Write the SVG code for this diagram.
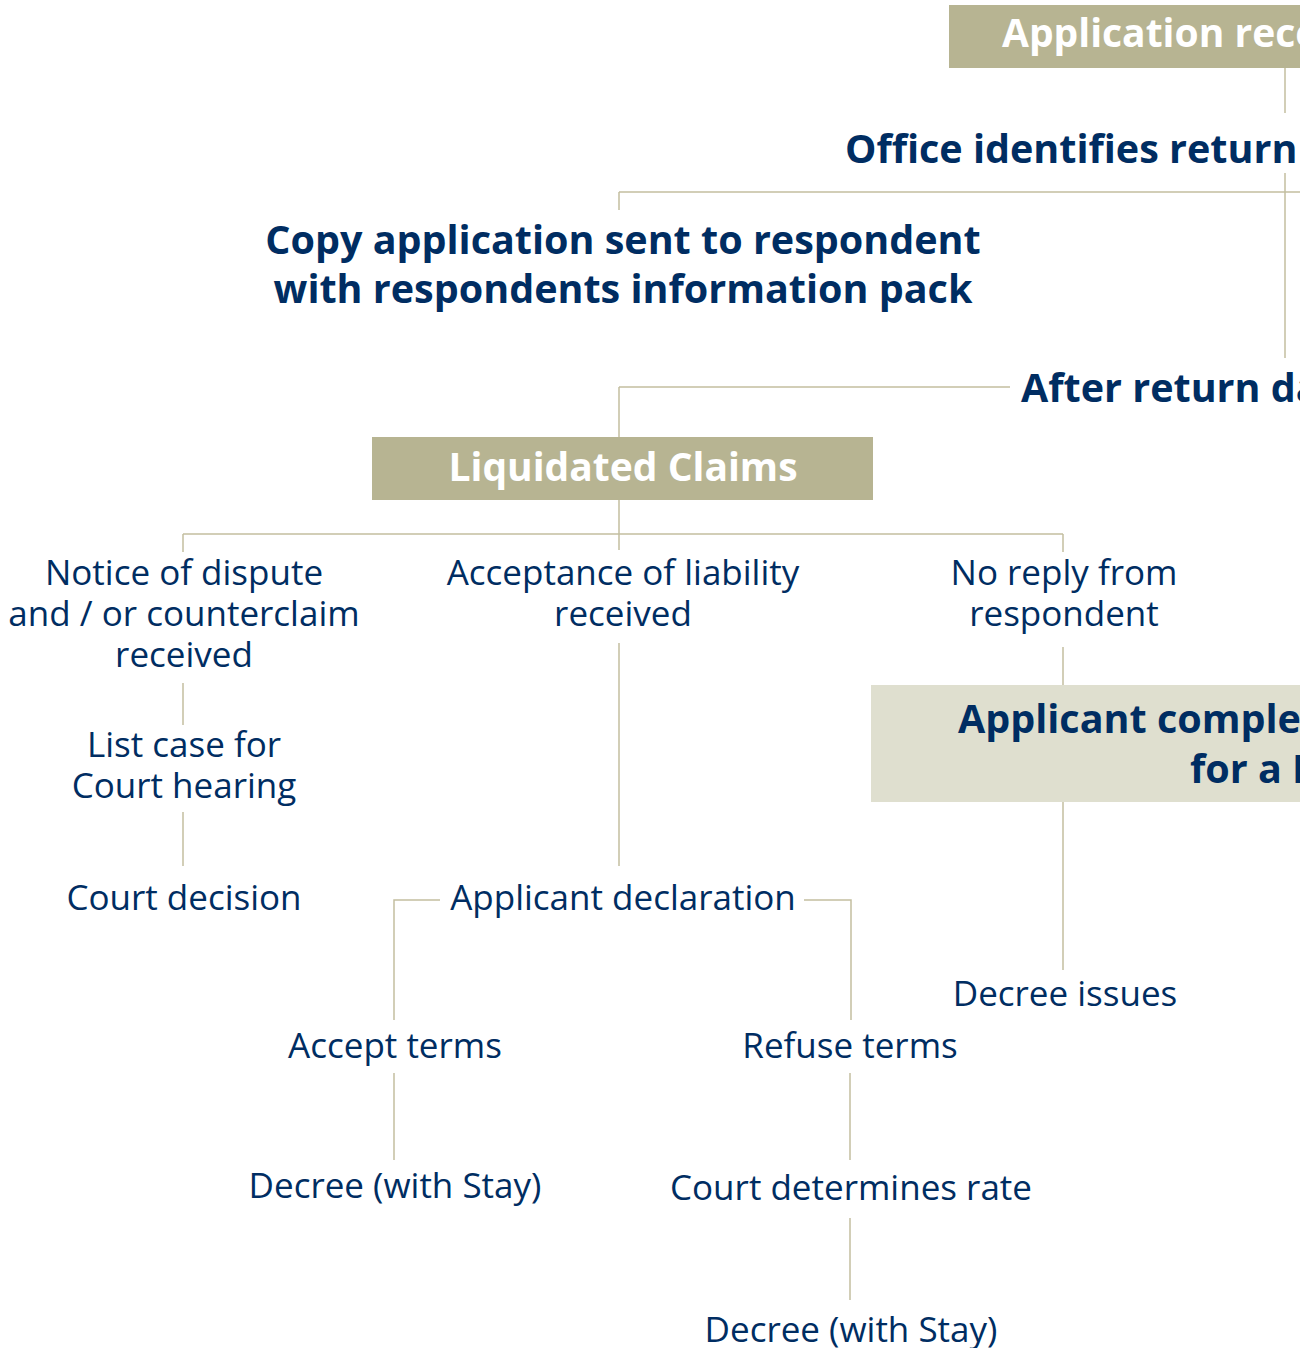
<svg xmlns="http://www.w3.org/2000/svg" width="1300" height="1348" viewBox="0 0 1300 1348">
<style>
.ln{stroke:#c3bfa0;stroke-width:1.5;fill:none}
.t{font-family:"Open Sans","Noto Sans",sans-serif;fill:#002d62;font-size:35px;text-anchor:middle}
.b{font-family:"Open Sans","Noto Sans",sans-serif;fill:#002d62;font-size:39.5px;font-weight:bold}
.w{font-family:"Open Sans","Noto Sans",sans-serif;fill:#ffffff;font-size:39px;font-weight:bold}
.dark{fill:#b7b492}
.light{fill:#dfdfcf}
</style>
<rect width="1300" height="1348" fill="#fff"/>
<g id="connectors">
<path class="ln" d="M1285 68V113M1285 173V358M619 192H1300M619 192V210M619 387H1010M619 387V437M619 500V550M183 534H1063M183 534V552M1063 534V552M183 683V725M183 812V866M619 643V866M440 900H394V1020M804 900H851V1020M394 1073V1160M850 1073V1160M850 1218V1300M1063 647V685M1063 802V970"/>
</g>
<g id="n-app"><rect class="dark" x="949" y="5" width="360" height="63"/><text class="w" x="1002" y="47">Application rece</text></g>
<g id="n-office"><text class="b" x="845" y="163">Office identifies return</text></g>
<g id="n-copy"><text class="b" x="623" y="254" text-anchor="middle">Copy application sent to respondent</text><text class="b" x="623" y="303" text-anchor="middle">with respondents information pack</text></g>
<g id="n-after"><text class="b" x="1021" y="402">After return da</text></g>
<g id="n-liq"><rect class="dark" x="372" y="437" width="501" height="63"/><text class="w" x="623" y="481" text-anchor="middle">Liquidated Claims</text></g>
<g id="n-notice"><text class="t" x="184" y="585">Notice of dispute</text><text class="t" x="184" y="626">and / or counterclaim</text><text class="t" x="184" y="667">received</text></g>
<g id="n-list"><text class="t" x="184" y="757">List case for</text><text class="t" x="184" y="798">Court hearing</text></g>
<g id="n-decision"><text class="t" x="184" y="910">Court decision</text></g>
<g id="n-accept-liab"><text class="t" x="623" y="585">Acceptance of liability</text><text class="t" x="623" y="626">received</text></g>
<g id="n-decl"><text class="t" x="623" y="910">Applicant declaration</text></g>
<g id="n-accept"><text class="t" x="395" y="1058">Accept terms</text></g>
<g id="n-decree1"><text class="t" x="395" y="1198">Decree (with Stay)</text></g>
<g id="n-refuse"><text class="t" x="850" y="1058">Refuse terms</text></g>
<g id="n-rate"><text class="t" x="851" y="1200">Court determines rate</text></g>
<g id="n-decree2"><text class="t" x="851" y="1342">Decree (with Stay)</text></g>
<g id="n-noreply"><text class="t" x="1064" y="585">No reply from</text><text class="t" x="1064" y="626">respondent</text></g>
<g id="n-complete"><rect class="light" x="871" y="685" width="440" height="117"/><text class="b" x="958" y="733">Applicant complet</text><text class="b" x="1190" y="783">for a D</text></g>
<g id="n-issues"><text class="t" x="1065" y="1006">Decree issues</text></g>
</svg>
